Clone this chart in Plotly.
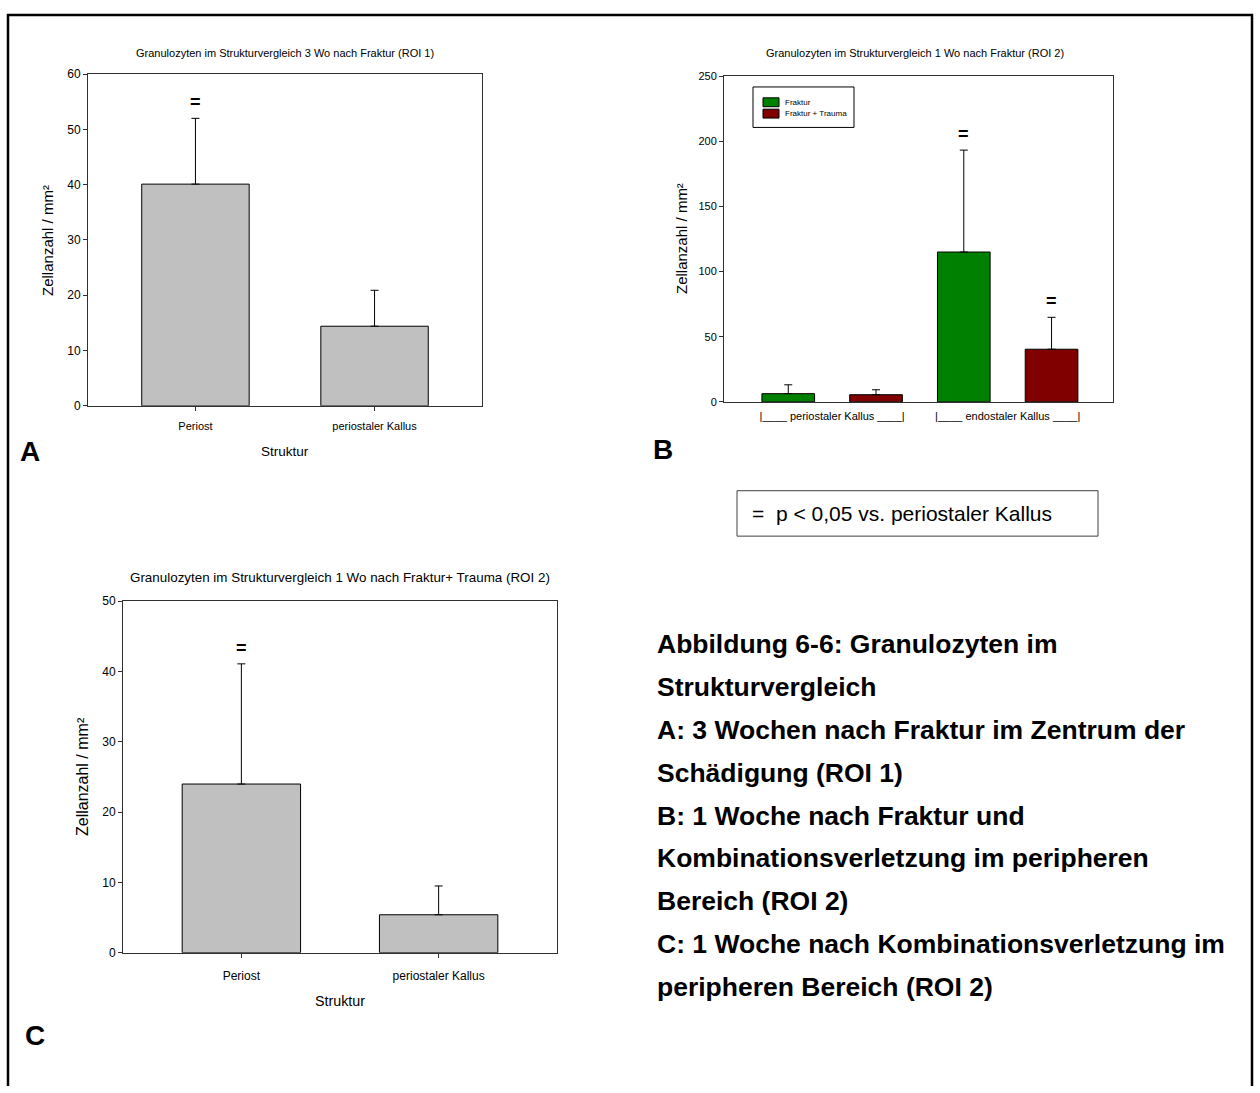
import plotly.graph_objects as go

# ---------------- data ----------------
# Panel A: 3 weeks after fracture, ROI 1
cat_a = ["Periost", "periostaler Kallus"]
mean_a = [40.1, 14.4]
sd_a = [11.9, 6.5]
sig_a = [True, False]

# Panel B: 1 week after fracture vs. fracture + trauma, ROI 2
cat_b = ["periostaler Kallus", "endostaler Kallus"]
tick_b = ["|____ periostaler Kallus ____|", "|____ endostaler Kallus ____|"]
series_b = ["Fraktur", "Fraktur + Trauma"]
mean_b_fraktur = [6.3, 115.0]
sd_b_fraktur = [6.8, 78.2]
sig_b_fraktur = [False, True]
mean_b_trauma = [5.5, 40.4]
sd_b_trauma = [3.8, 24.5]
sig_b_trauma = [False, True]

# Panel C: 1 week after fracture + trauma, ROI 2
cat_c = ["Periost", "periostaler Kallus"]
mean_c = [24.0, 5.4]
sd_c = [17.1, 4.1]
sig_c = [True, False]

caption_lines = [
    "Abbildung 6-6: Granulozyten im",
    "Strukturvergleich",
    "A: 3 Wochen nach Fraktur im Zentrum der",
    "Schädigung (ROI 1)",
    "B: 1 Woche nach Fraktur und",
    "Kombinationsverletzung im peripheren",
    "Bereich (ROI 2)",
    "C: 1 Woche nach Kombinationsverletzung im",
    "peripheren Bereich (ROI 2)",
]

# ---------------- styling ----------------
W, H = 1260, 1093
FONT = "Arial, 'Liberation Sans', sans-serif"
GRAY = "#c0c0c0"
GREEN = "#008000"
DARKRED = "#800000"
AXIS = "#303030"


def px(x):
    return x / W


def py(y):
    return 1 - y / H


def err(vals):
    return dict(type="data", array=vals, arrayminus=[0] * len(vals),
                symmetric=False, color="black", thickness=1, width=4)


fig = go.Figure()

fig.add_trace(go.Bar(x=cat_a, y=mean_a, width=0.6, marker=dict(color=GRAY, line=dict(color="black", width=1)),
                     error_y=err(sd_a), xaxis="x", yaxis="y"))

fig.add_trace(go.Bar(x=cat_b, y=mean_b_fraktur, name=series_b[0],
                     marker=dict(color=GREEN, line=dict(color="black", width=1)),
                     error_y=err(sd_b_fraktur), xaxis="x2", yaxis="y2"))
fig.add_trace(go.Bar(x=cat_b, y=mean_b_trauma, name=series_b[1],
                     marker=dict(color=DARKRED, line=dict(color="black", width=1)),
                     error_y=err(sd_b_trauma), xaxis="x2", yaxis="y2"))

fig.add_trace(go.Bar(x=cat_c, y=mean_c, width=0.6, marker=dict(color=GRAY, line=dict(color="black", width=1)),
                     error_y=err(sd_c), xaxis="x3", yaxis="y3"))


def xaxis(domain, rng, ticks, size, standoff):
    return dict(domain=domain, range=rng, type="category", showline=True, mirror=True,
                linecolor=AXIS, linewidth=1, ticks=ticks, ticklen=4, tickcolor=AXIS,
                tickfont=dict(size=size, color="black", family=FONT), showgrid=False,
                zeroline=False, fixedrange=True, ticklabelstandoff=standoff)


def yaxis(domain, rng, dtick, size, anchor):
    return dict(domain=domain, range=rng, dtick=dtick, showline=True, mirror=True,
                linecolor=AXIS, linewidth=1, ticks="outside", ticklen=4, tickcolor=AXIS,
                tickfont=dict(size=size, color="black", family=FONT), showgrid=False,
                zeroline=False, anchor=anchor, fixedrange=True)


# plot-area boxes (pixels: left, right, top, bottom)
A_box = (88, 482, 68, 404)
B_box = (724, 1113, 70, 400)
C_box = (123, 557, 602, 958)

fig.update_layout(
    width=W, height=H, margin=dict(l=0, r=0, t=0, b=0),
    paper_bgcolor="white", plot_bgcolor="white",
    font=dict(family=FONT, color="black"),
    showlegend=False,
    barmode="group", bargap=0.0, bargroupgap=0.4,
    xaxis=xaxis([px(A_box[0]), px(A_box[1])], [-0.6, 1.6], "outside", 11, 6) | dict(anchor="y"),
    yaxis=yaxis([py(A_box[3]), py(A_box[2])], [0, 60], 10, 12, "x"),
    xaxis2=xaxis([px(B_box[0]), px(B_box[1])], [-0.616, 1.6], "", 11, 4) | dict(anchor="y2", tickvals=cat_b, ticktext=tick_b),
    yaxis2=yaxis([py(B_box[3]), py(B_box[2])], [0, 250], 50, 11, "x2"),
    xaxis3=xaxis([px(C_box[0]), px(C_box[1])], [-0.6, 1.6], "outside", 12, 8) | dict(anchor="y3"),
    yaxis3=yaxis([py(C_box[3]), py(C_box[2])], [0, 50], 10, 12, "x3"),
)

ann = []


def text(x, y, s, size, xanchor="center", **kw):
    ann.append(dict(x=px(x), y=py(y), xref="paper", yref="paper", text=s, showarrow=False,
                    xanchor=xanchor, yanchor="middle",
                    font=dict(size=size, family=FONT, color="black"), **kw))


# chart titles
text(285, 47, "Granulozyten im Strukturvergleich 3 Wo nach Fraktur (ROI 1)", 11)
text(915, 47, "Granulozyten im Strukturvergleich 1 Wo nach Fraktur (ROI 2)", 11)
text(340, 578, "Granulozyten im Strukturvergleich 1 Wo nach Fraktur+ Trauma (ROI 2)", 13.4)

# axis titles
text(48, 237, "Zellanzahl / mm²", 15, textangle=-90)
text(285, 450, "Struktur", 13.5)
text(682, 235, "Zellanzahl / mm²", 15, textangle=-90)
text(82, 780, "Zellanzahl / mm²", 16, textangle=-90)
text(340, 1007, "Struktur", 14.3)

# panel letters
text(30, 450, "<b>A</b>", 28)
text(663, 448, "<b>B</b>", 28)
text(35, 1042, "<b>C</b>", 28)

# significance legend
text(750, 513, "=  p &lt; 0,05 vs. periostaler Kallus", 21, xanchor="left")

# caption
for i, line in enumerate(caption_lines):
    text(655, 645 + i * 43.5, "<b>" + line + "</b>", 26.5, xanchor="left")


# significance markers above the error bars
def sig_marks(means, sds, sigs, xref, yref, offset=0.0):
    for i, (m, s, g) in enumerate(zip(means, sds, sigs)):
        if g:
            ann.append(dict(x=i + offset, y=m + s, xref=xref, yref=yref, text="<b>=</b>", showarrow=False,
                            xanchor="center", yanchor="middle", yshift=16,
                            font=dict(size=18, family=FONT, color="black")))


sig_marks(mean_a, sd_a, sig_a, "x", "y")
group_off = 1 / 4  # half a bar slot inside each category group
sig_marks(mean_b_fraktur, sd_b_fraktur, sig_b_fraktur, "x2", "y2", -group_off)
sig_marks(mean_b_trauma, sd_b_trauma, sig_b_trauma, "x2", "y2", group_off)
sig_marks(mean_c, sd_c, sig_c, "x3", "y3")

# outer frame (open at the bottom) and the significance box
shapes = [
    dict(type="path", xref="paper", yref="paper",
         path=f"M {px(8)},0 L {px(8)},{py(8)} L {px(1252)},{py(8)} L {px(1252)},0",
         line=dict(color="black", width=2.5)),
    dict(type="rect", xref="paper", yref="paper", x0=px(737), x1=px(1098), y0=py(536), y1=py(490),
         line=dict(color="#404040", width=1)),
]

# compact legend box for panel B
shapes.append(dict(type="rect", xref="paper", yref="paper", x0=px(753), x1=px(854), y0=py(122), y1=py(81),
                   line=dict(color="black", width=1), fillcolor="white", layer="above"))
for k, (name, col) in enumerate(zip(series_b, [GREEN, DARKRED])):
    y0 = 92 + k * 11.5
    shapes.append(dict(type="rect", xref="paper", yref="paper", x0=px(763), x1=px(779),
                       y0=py(y0 + 9), y1=py(y0), fillcolor=col, line=dict(color="black", width=1),
                       layer="above"))
    text(783, y0 + 4.5, name, 8, xanchor="left")

fig.update_layout(annotations=ann, shapes=shapes)

fig.write_html("out.html")
